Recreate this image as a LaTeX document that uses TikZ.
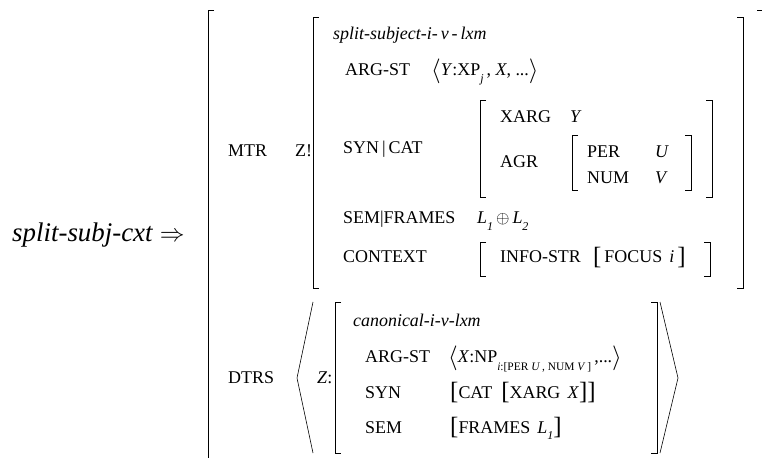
\documentclass[tikz,border=0pt]{standalone}
\usepackage{fontspec}
\setmainfont{Liberation Serif}
\newcommand\fsz{\fontsize{18}{20}\selectfont}
\newcommand\bigfsz{\fontsize{27}{29}\selectfont}
\newcommand\lsub[1]{\raisebox{-0.35em}{\fontsize{12}{12}\selectfont #1}}
\newcommand\tinysub[1]{\raisebox{-0.4em}{\fontsize{11.5}{11.5}\selectfont #1}}
\newcommand\tbk[1]{{\fontsize{25}{25}\selectfont\raisebox{-0.08em}{#1}}}
\newcommand\tang[1]{{\fontsize{25}{25}\selectfont\raisebox{-0.06em}{$#1$}}}
\begin{document}
\begin{tikzpicture}[x=1bp,y=-1bp,
  lbl/.style={anchor=base west, inner sep=0pt, font=\fsz},
  brk/.style={line width=0.9pt, line cap=butt},
  ang/.style={line width=0.6pt}]
\useasboundingbox (0,0) rectangle (762,458);
% heading
\node[lbl, font=\bigfsz] (head) at (12,242) {\textit{split-subj-cxt} $\Rightarrow$};
% outer brackets
\draw[brk] (214,10) -- (208,10) -- (208,470);
\draw[brk] (757,10) -- (763,10) -- (763,470);
% MTR
\node[lbl] (mtr) at (228,157) {MTR};
\node[lbl] (zex) at (295,157) {Z!};
\draw[brk] (319,17) -- (313,17) -- (313,288) -- (319,288);
\draw[brk] (737,17) -- (743,17) -- (743,288) -- (737,288);
\node[lbl] (type1) at (333,40) {\textit{split-subject-i-\,v\,-\,lxm}};
\node[lbl] (argst1) at (345,76) {ARG-ST};
\node[lbl] (argv1) at (431,76) {\tang{\langle}\textit{Y}:XP\lsub{\textit{j}}\,, \textit{X}, ...\tang{\rangle}};
\node[lbl] (syncat) at (343,154) {SYN\,|\,CAT};
\draw[brk] (486,100) -- (480,100) -- (480,197) -- (486,197);
\draw[brk] (706,100) -- (712,100) -- (712,197) -- (706,197);
\node[lbl] (xarg) at (500,123) {XARG};
\node[lbl] (xargv) at (570,123) {\textit{Y}};
\node[lbl] (agr) at (500,168) {AGR};
\draw[brk] (578,135) -- (572,135) -- (572,190) -- (578,190);
\draw[brk] (685,135) -- (691,135) -- (691,190) -- (685,190);
\node[lbl] (per) at (587,158) {PER};
\node[lbl] (perv) at (655,158) {\textit{U}};
\node[lbl] (num) at (587,184) {NUM};
\node[lbl] (numv) at (655,184) {\textit{V}};
\node[lbl] (semfr) at (343,224) {SEM|FRAMES};
\node[lbl] (semfrv) at (477,224) {\textit{L}\lsub{\textit{1}}\,$\oplus$\,\textit{L}\lsub{\textit{2}}};
\node[lbl] (ctx) at (343,263) {CONTEXT};
\draw[brk] (486,242) -- (480,242) -- (480,276) -- (486,276);
\draw[brk] (704,242) -- (710,242) -- (710,276) -- (704,276);
\node[lbl] (info) at (500,263) {INFO-STR};
\node[lbl] (focus) at (593,263) {\tbk{[}\,FOCUS\hspace{0.4em}\textit{i}\,\tbk{]}};
% DTRS
\node[lbl] (dtrs) at (228,383) {DTRS};
\draw[ang] (313,302) -- (297,378) -- (313,453);
\draw[ang] (660,302) -- (678,378) -- (660,453);
\node[lbl] (zcol) at (317,383) {\textit{Z}:};
\draw[brk] (341,302) -- (335,302) -- (335,453) -- (341,453);
\draw[brk] (651,302) -- (657,302) -- (657,453) -- (651,453);
\node[lbl] (type2) at (353,327) {\textit{canonical-i-v-lxm}};
\node[lbl] (argst2) at (365,363) {ARG-ST};
\node[lbl] (argv2) at (448,363) {\tang{\langle}\textit{X}:NP\tinysub{\textit{i}:[PER \textit{U}\,, NUM \textit{V}\,]}\,,...\tang{\rangle}};
\node[lbl] (syn2) at (365,398) {SYN};
\node[lbl] (syn2v) at (450,398) {\tbk{[}CAT\hspace{0.5em}\tbk{[}XARG\hspace{0.4em}\textit{X}\tbk{]}\tbk{]}};
\node[lbl] (sem2) at (365,433) {SEM};
\node[lbl] (sem2v) at (450,433) {\tbk{[}FRAMES\hspace{0.4em}\textit{L}\lsub{\textit{1}}\tbk{]}};
\end{tikzpicture}
\end{document}
